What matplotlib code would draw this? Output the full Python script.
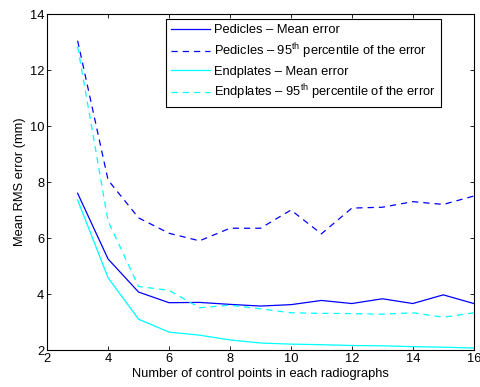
import numpy as np
import matplotlib
matplotlib.use("Agg")
import matplotlib.pyplot as plt

plt.rcParams['font.family'] = ['Liberation Sans', 'DejaVu Sans']
plt.rcParams['mathtext.fontset'] = 'custom'
plt.rcParams['mathtext.rm'] = 'Liberation Sans'
plt.rcParams['mathtext.it'] = 'Liberation Sans'

# data
n_points = [3, 4, 5, 6, 7, 8, 9, 10, 11, 12, 13, 14, 15, 16]
ped_mean = [7.6, 5.25, 4.07, 3.69, 3.7, 3.63, 3.57, 3.62, 3.77, 3.66, 3.83, 3.66, 3.97, 3.66]
ped_95 = [13.05, 8.07, 6.72, 6.17, 5.9, 6.35, 6.35, 7.0, 6.15, 7.07, 7.1, 7.3, 7.2, 7.5]
end_mean = [7.36, 4.58, 3.1, 2.64, 2.53, 2.36, 2.25, 2.21, 2.19, 2.16, 2.15, 2.12, 2.1, 2.07]
end_95 = [12.85, 6.6, 4.27, 4.13, 3.51, 3.6, 3.47, 3.33, 3.31, 3.3, 3.28, 3.33, 3.17, 3.33]

labels = ["Pedicles \u2013 Mean error",
          "Pedicles \u2013 95$^{\\rm th}$ percentile of the error",
          "Endplates \u2013 Mean error",
          "Endplates \u2013 95$^{\\rm th}$ percentile of the error"]

fs = 9.3

fig = plt.figure(figsize=(4.81, 3.87), dpi=100)
ax = fig.add_axes([0.098, 0.0956, 0.887, 0.868])

ax.plot(n_points, ped_mean, color=(0, 0, 1), lw=0.9, label=labels[0])
ax.plot(n_points, ped_95, color=(0, 0, 1), lw=0.9, ls=(0, (5, 4)), label=labels[1])
ax.plot(n_points, end_mean, color=(0, 1, 1), lw=0.9, label=labels[2])
ax.plot(n_points, end_95, color=(0, 1, 1), lw=0.9, ls=(0, (5, 4)), label=labels[3])

ax.set_xlim(2, 16)
ax.set_ylim(2, 14)
ax.set_xticks(range(2, 17, 2))
ax.set_yticks(range(2, 15, 2))
ax.tick_params(direction='in', top=True, right=True, labelsize=fs, length=3, width=0.6, pad=2)
for s in ax.spines.values():
    s.set_linewidth(0.8)

ax.set_xlabel("Number of control points in each radiographs", fontsize=fs, labelpad=2.5)
ax.set_ylabel("Mean RMS error (mm)", fontsize=fs, labelpad=3)

leg = ax.legend(loc='upper right', bbox_to_anchor=(0.923, 0.985), borderaxespad=0,
                fontsize=fs, fancybox=False, framealpha=1, edgecolor='black',
                handlelength=3.0, labelspacing=0.38, borderpad=0.4, handletextpad=0.35)
leg.get_frame().set_linewidth(0.8)

fig.savefig("out.png", dpi=100)
